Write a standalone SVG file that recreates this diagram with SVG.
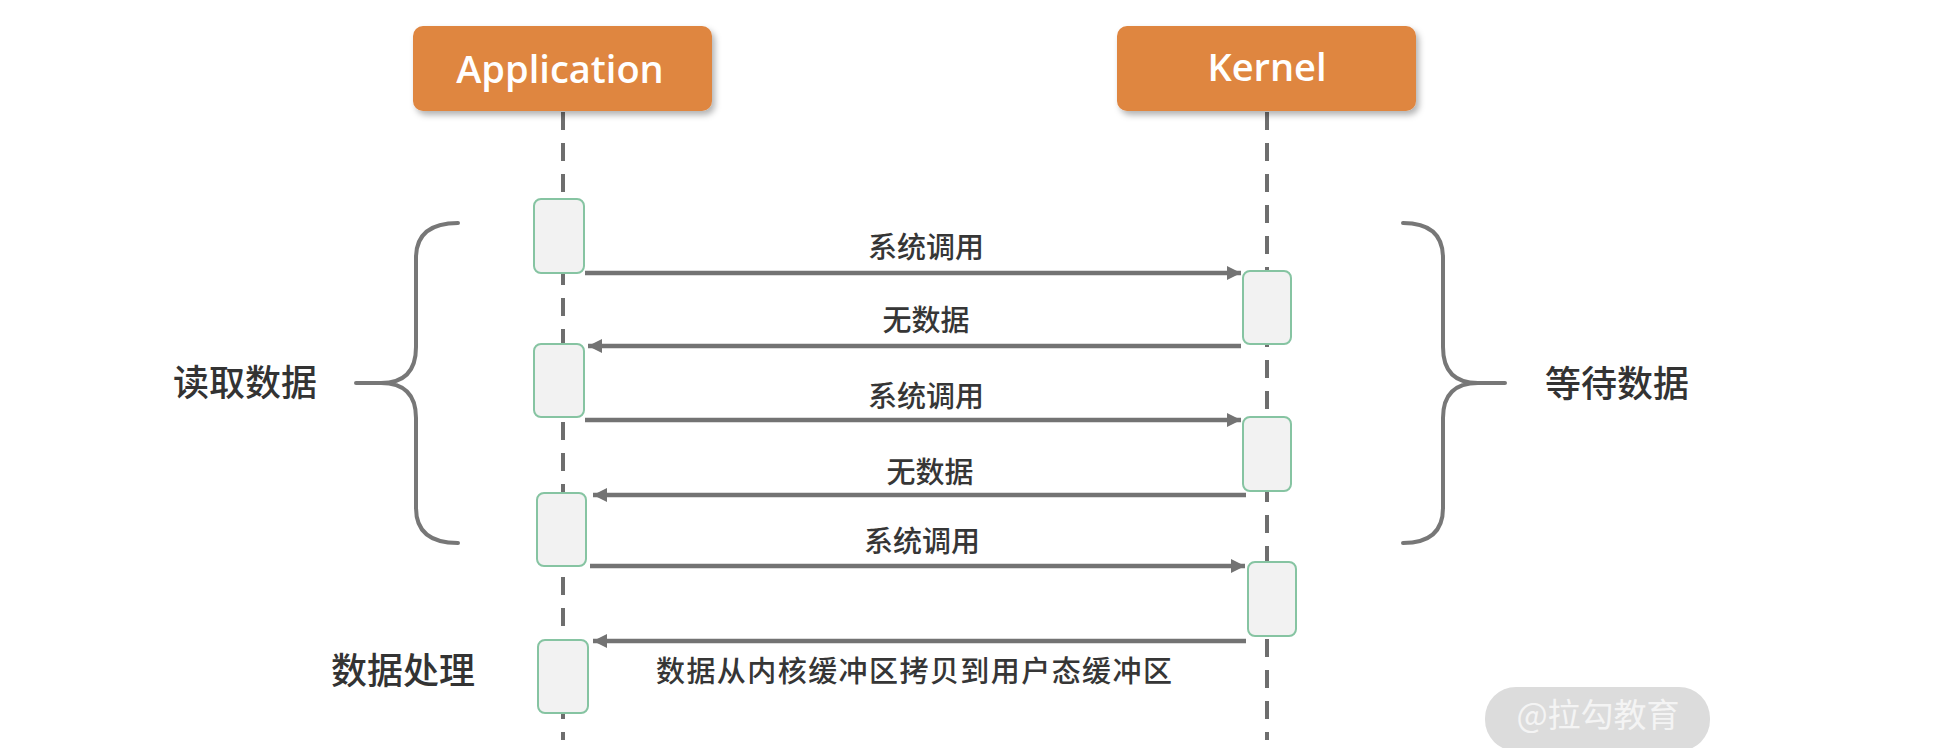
<svg xmlns="http://www.w3.org/2000/svg" width="1956" height="748" viewBox="0 0 1956 748">
<defs>
<style>
.actor{fill:#df8641;}
.actorText{font-family:"Open Sans","Noto Sans",sans-serif;font-size:38px;font-weight:600;fill:#ffffff;text-anchor:middle;}
.life{stroke:#6e6e6e;stroke-width:4;stroke-dasharray:18 13;fill:none;}
.act{fill:#f2f2f2;stroke:#86c4a2;stroke-width:2;}
.msg{stroke:#737373;stroke-width:4.5;fill:none;}
.lbl{font-family:"Noto Sans CJK SC","Noto Sans",sans-serif;font-size:29px;font-weight:500;fill:#363636;text-anchor:middle;}
.big{font-family:"Noto Sans CJK SC","Noto Sans",sans-serif;font-size:36px;font-weight:500;fill:#333333;text-anchor:middle;}
.brace{stroke:#777777;stroke-width:4;fill:none;stroke-linecap:round;}
</style>
<filter id="sh" x="-10%" y="-20%" width="125%" height="150%">
<feDropShadow dx="3" dy="4" stdDeviation="3" flood-color="#000" flood-opacity="0.3"/>
</filter>
<marker id="ah" viewBox="0 0 14 14" refX="14" refY="7" markerWidth="14" markerHeight="14" markerUnits="userSpaceOnUse" orient="auto">
<path d="M0,0 L14,7 L0,14 Z" fill="#737373"/>
</marker>
</defs>
<rect width="1956" height="748" fill="#ffffff"/>

<g id="lifelines">
<line class="life" x1="563" y1="112" x2="563" y2="740"/>
<line class="life" x1="1267" y1="112" x2="1267" y2="740"/>
</g>

<g id="application">
<rect class="actor" x="413" y="26" width="299" height="85" rx="10" filter="url(#sh)"/>
<text class="actorText" x="560" y="83">Application</text>
</g>
<g id="kernel">
<rect class="actor" x="1117" y="26" width="299" height="85" rx="10" filter="url(#sh)"/>
<text class="actorText" x="1267" y="81">Kernel</text>
</g>

<g id="app-activations">
<rect class="act" x="534" y="199" width="50" height="74" rx="7"/>
<rect class="act" x="534" y="344" width="50" height="73" rx="7"/>
<rect class="act" x="537" y="493" width="49" height="73" rx="7"/>
<rect class="act" x="538" y="640" width="50" height="73" rx="7"/>
</g>
<g id="kernel-activations">
<rect class="act" x="1243" y="271" width="48" height="73" rx="7"/>
<rect class="act" x="1243" y="417" width="48" height="74" rx="7"/>
<rect class="act" x="1248" y="562" width="48" height="74" rx="7"/>
</g>

<g id="connectors">
<line class="msg" x1="585" y1="273" x2="1241" y2="273" marker-end="url(#ah)"/>
<line class="msg" x1="1241" y1="346" x2="588" y2="346" marker-end="url(#ah)"/>
<line class="msg" x1="585" y1="420" x2="1241" y2="420" marker-end="url(#ah)"/>
<line class="msg" x1="1246" y1="495" x2="593" y2="495" marker-end="url(#ah)"/>
<line class="msg" x1="590" y1="566" x2="1245" y2="566" marker-end="url(#ah)"/>
<line class="msg" x1="1246" y1="641" x2="593" y2="641" marker-end="url(#ah)"/>
</g>

<g id="labels">
<text class="lbl" x="926" y="258">系统调用</text>
<text class="lbl" x="926" y="331">无数据</text>
<text class="lbl" x="926" y="407">系统调用</text>
<text class="lbl" x="930" y="483">无数据</text>
<text class="lbl" x="922" y="552">系统调用</text>
<text class="lbl" x="914" y="682" textLength="516" lengthAdjust="spacing">数据从内核缓冲区拷贝到用户态缓冲区</text>
</g>

<g id="read-data">
<path class="brace" d="M458,223 Q416,223 416,258 L416,347 Q416,383 381,383 L356,383 M381,383 Q416,383 416,418 L416,508 Q416,543 458,543"/>
<text class="big" x="245" y="396">读取数据</text>
</g>
<g id="wait-data">
<path class="brace" d="M1403,223 Q1443,223 1443,258 L1443,347 Q1443,383 1478,383 L1505,383 M1478,383 Q1443,383 1443,418 L1443,508 Q1443,543 1403,543"/>
<text class="big" x="1617" y="397">等待数据</text>
</g>
<g id="process-data">
<text class="big" x="403" y="684">数据处理</text>
</g>

<g id="watermark">
<rect x="1485" y="687" width="225" height="64" rx="31" fill="#dcdcdc"/>
<text x="1598" y="727" font-family="'Noto Sans CJK SC','Noto Sans',sans-serif" font-size="33" fill="#f4f4f4" text-anchor="middle">@拉勾教育</text>
</g>
</svg>
